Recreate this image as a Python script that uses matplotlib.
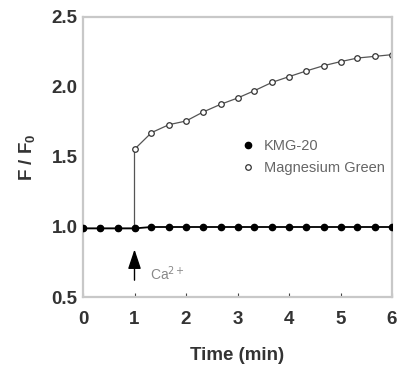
import matplotlib.pyplot as plt
from matplotlib.lines import Line2D
import numpy as np

plt.rcParams['font.family'] = ['Liberation Sans', 'DejaVu Sans']

# time points (min)
time_kmg = [0, 0.33, 0.67, 1.0, 1.33, 1.67, 2.0, 2.33, 2.67, 3.0, 3.33,
            3.67, 4.0, 4.33, 4.67, 5.0, 5.33, 5.67, 6.0]
kmg20 = [0.99, 0.99, 0.99, 0.99, 1.0, 1.0, 1.0, 1.0, 1.0, 1.0, 1.0,
         1.0, 1.0, 1.0, 1.0, 1.0, 1.0, 1.0, 1.0]

time_mg = [0, 0.33, 0.67, 1.0, 1.0, 1.33, 1.67, 2.0, 2.33, 2.67, 3.0, 3.33,
           3.67, 4.0, 4.33, 4.67, 5.0, 5.33, 5.67, 6.0]
mg_green = [0.99, 0.99, 0.99, 0.99, 1.555, 1.674, 1.731, 1.757, 1.821, 1.876,
            1.921, 1.974, 2.033, 2.074, 2.114, 2.152, 2.181, 2.207, 2.219, 2.231]

frame_col = '#c8c8c8'

fig = plt.figure(figsize=(4.0, 3.67), dpi=100)
ax = fig.add_axes([83 / 400, 1 - 297 / 367, (392 - 83) / 400, (297 - 17) / 367])

ax.plot(time_mg, mg_green, color='#555555', lw=0.9, marker='o', ms=4,
        mfc='white', mec='#333333', mew=0.9, zorder=2)
ax.plot(time_kmg, kmg20, color='black', lw=1.3, marker='o', ms=4.5,
        mfc='black', mec='black', zorder=3)

# Ca2+ addition arrow
ax.annotate('', xy=(1.0, 0.84), xytext=(1.0, 0.62),
            arrowprops=dict(arrowstyle='-|>,head_width=0.4,head_length=1.2',
                            color='black', lw=1.0, shrinkA=0, shrinkB=0))
ax.text(1.3, 0.665, 'Ca$^{2+}$', fontsize=10, color='#888888', va='center')

ax.set_xlim(0, 6)
ax.set_ylim(0.5, 2.5)
ax.set_xticks(range(0, 7))
ax.set_yticks([0.5, 1.0, 1.5, 2.0, 2.5])
ax.set_yticklabels(['0.5', '1.0', '1.5', '2.0', '2.5'])
ax.tick_params(axis='x', direction='in', length=3, color='#444444', labelsize=13.5, pad=10)
ax.tick_params(axis='y', length=0, labelsize=13.5, pad=4)
for lab in ax.get_xticklabels() + ax.get_yticklabels():
    lab.set_fontweight('bold')
    lab.set_color('#333333')
for sp in ax.spines.values():
    sp.set_color(frame_col)
    sp.set_linewidth(1.6)

ax.set_xlabel('Time (min)', fontsize=13.5, fontweight='bold', color='#333333', labelpad=14)
ax.set_ylabel('F / F$_\\mathregular{0}$', fontsize=13.5, fontweight='bold', color='#333333', labelpad=10)

handles = [Line2D([], [], ls='none', marker='o', ms=4.5, mfc='black', mec='black'),
           Line2D([], [], ls='none', marker='o', ms=4, mfc='white', mec='#333333', mew=0.9)]
leg = ax.legend(handles, ['KMG-20', 'Magnesium Green'], loc='upper left',
                bbox_to_anchor=(0.5, 0.585), frameon=False, fontsize=10.5,
                handlelength=0.6, handletextpad=0.8, labelspacing=0.55, borderaxespad=0)
for t in leg.get_texts():
    t.set_color('#666666')

fig.savefig('out.png', dpi=100)
